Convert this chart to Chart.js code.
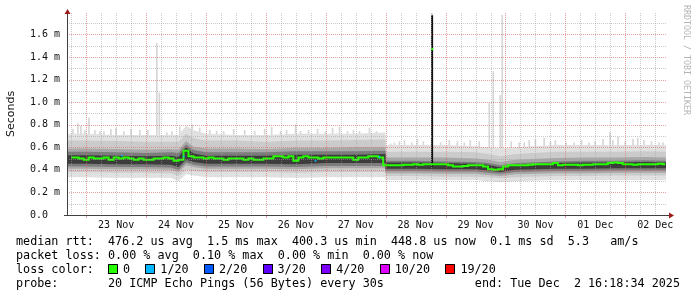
<!DOCTYPE html>
<html>
<head>
<meta charset="utf-8">
<script src="https://cdn.jsdelivr.net/npm/chart.js@4.4.1/dist/chart.umd.min.js"></script>
<style>
    html, body { margin: 0; padding: 0; background: #fff; }
    #wrap { position: relative; width: 697px; height: 297px; overflow: hidden; }
    #rrd { position: absolute; left: 0; top: 0; }
    .leg {
        position: absolute;
        left: 16px;
        font-family: 'DejaVu Sans Mono', monospace;
        font-size: 11.75px;
        line-height: 14px;
        white-space: pre;
        color: #000;
    }
    .box {
        display: inline-block;
        width: 8px;
        height: 8px;
        border: 1px solid #000;
        margin-right: 5px;
        vertical-align: -1px;
    }
    .lc { margin-right: 15.3px; }
</style>
</head>
<body>
<div id="wrap">
    <canvas id="rrd" width="697" height="297"></canvas>
    <div class="leg" style="top:234px">median rtt:  476.2 us avg  1.5 ms max  400.3 us min  448.8 us now  0.1 ms sd  5.3   am/s</div>
    <div class="leg" style="top:248px">packet loss: 0.00 % avg  0.10 % max  0.00 % min  0.00 % now</div>
    <div class="leg" id="loss_colours" style="top:262px">loss color:  </div>
    <div class="leg" style="top:276px">probe:       20 ICMP Echo Pings (56 Bytes) every 30s</div>
    <div class="leg" style="top:276px; left:auto; right:17px">end: Tue Dec  2 16:18:34 2025</div>
</div>
<script>
// x values are hours since 22 Nov 00:00, y values are milliseconds
const startHour = 16.31;
const endHour = 256.31;

const dayTicks = [36, 60, 84, 108, 132, 156, 180, 204, 228, 252];
const dayLabels = ['23 Nov', '24 Nov', '25 Nov', '26 Nov', '27 Nov', '28 Nov', '29 Nov', '30 Nov', '01 Dec', '02 Dec'];
const yTicks = [0, 0.2, 0.4, 0.6, 0.8, 1.0, 1.2, 1.4, 1.6];
const yLabels = ['0.0  ', '0.2 m', '0.4 m', '0.6 m', '0.8 m', '1.0 m', '1.2 m', '1.4 m', '1.6 m'];

const lossLabels = ['0', '1/20', '2/20', '3/20', '4/20', '10/20', '19/20'];
const lossColours = ['#26ff00', '#00b8ff', '#0059ff', '#5e00ff', '#7e00ff', '#dd00ff', '#ff0000'];

// median rtt, one reading every 2 hours from 22 Nov 18:00
const medianStart = 18;
const medianStep = 2;
const medianMs = [
    0.51, 0.51, 0.50, 0.49, 0.51, 0.50, 0.50, 0.51, 0.49, 0.51,
    0.50, 0.51, 0.50, 0.49, 0.50, 0.49, 0.49, 0.50, 0.50, 0.51,
    0.50, 0.48, 0.49, 0.57, 0.52, 0.51, 0.51, 0.50, 0.51, 0.50,
    0.50, 0.49, 0.50, 0.50, 0.50, 0.49, 0.50, 0.49, 0.49, 0.50,
    0.50, 0.52, 0.52, 0.51, 0.52, 0.48, 0.51, 0.52, 0.51, 0.51,
    0.50, 0.51, 0.51, 0.51, 0.51, 0.51, 0.51, 0.49, 0.51, 0.51,
    0.52, 0.52, 0.51, 0.44, 0.44, 0.44, 0.44, 0.445, 0.445, 0.45,
    0.445, 0.45, 0.45, 0.45, 0.45, 0.45, 0.44, 0.43, 0.43, 0.435,
    0.44, 0.44, 0.44, 0.43, 0.405, 0.40, 0.405, 0.43, 0.44, 0.44,
    0.44, 0.44, 0.445, 0.45, 0.45, 0.45, 0.45, 0.46, 0.44, 0.445,
    0.445, 0.445, 0.44, 0.445, 0.445, 0.45, 0.45, 0.45, 0.46, 0.465,
    0.46, 0.45, 0.45, 0.445, 0.45, 0.45, 0.45, 0.45, 0.455, 0.45
];

// smoke envelopes, outer to inner
const smokeHours = [16.3, 24, 36, 48, 58, 61, 64, 67, 72, 84, 96, 108, 120, 132, 143.9,
    144.1, 156, 168, 180, 185, 190, 196, 212, 224, 236, 248, 256.3];
const smokeTop1 = [0.72, 0.72, 0.71, 0.71, 0.71, 0.71, 0.79, 0.75, 0.72, 0.71, 0.71, 0.72, 0.72, 0.72, 0.73,
    0.62, 0.62, 0.62, 0.61, 0.60, 0.59, 0.60, 0.62, 0.62, 0.62, 0.62, 0.62];
const smokeBot1 = [0.335, 0.335, 0.33, 0.33, 0.33, 0.30, 0.36, 0.35, 0.335, 0.335, 0.335, 0.33, 0.335, 0.335, 0.335,
    0.31, 0.31, 0.31, 0.31, 0.30, 0.29, 0.30, 0.31, 0.31, 0.31, 0.31, 0.31];
const smokeTop2 = [0.66, 0.66, 0.655, 0.65, 0.65, 0.65, 0.72, 0.68, 0.66, 0.66, 0.65, 0.66, 0.66, 0.665, 0.67,
    0.56, 0.56, 0.56, 0.555, 0.54, 0.52, 0.54, 0.56, 0.56, 0.56, 0.565, 0.56];
const smokeBot2 = [0.38, 0.38, 0.375, 0.375, 0.37, 0.345, 0.40, 0.39, 0.38, 0.38, 0.38, 0.375, 0.38, 0.38, 0.38,
    0.345, 0.345, 0.34, 0.34, 0.335, 0.325, 0.335, 0.345, 0.345, 0.35, 0.35, 0.35];
const smokeTop3 = [0.59, 0.59, 0.585, 0.58, 0.585, 0.58, 0.655, 0.605, 0.59, 0.59, 0.585, 0.595, 0.595, 0.60, 0.60,
    0.51, 0.51, 0.51, 0.50, 0.49, 0.47, 0.49, 0.505, 0.51, 0.51, 0.515, 0.51];
const smokeBot3 = [0.41, 0.41, 0.405, 0.405, 0.40, 0.38, 0.44, 0.425, 0.41, 0.41, 0.41, 0.405, 0.415, 0.415, 0.415,
    0.37, 0.37, 0.365, 0.365, 0.355, 0.345, 0.36, 0.37, 0.37, 0.375, 0.375, 0.375];
const smokeTop4 = [0.56, 0.56, 0.555, 0.55, 0.555, 0.55, 0.625, 0.575, 0.555, 0.555, 0.555, 0.565, 0.565, 0.565, 0.57,
    0.48, 0.48, 0.475, 0.47, 0.46, 0.44, 0.46, 0.475, 0.48, 0.48, 0.485, 0.48];
const smokeBot4 = [0.43, 0.43, 0.425, 0.425, 0.42, 0.40, 0.465, 0.445, 0.43, 0.43, 0.43, 0.425, 0.435, 0.435, 0.435,
    0.39, 0.39, 0.385, 0.385, 0.375, 0.365, 0.38, 0.39, 0.39, 0.395, 0.395, 0.395];
const smokeTop5 = [0.53, 0.53, 0.525, 0.52, 0.525, 0.515, 0.60, 0.545, 0.525, 0.525, 0.525, 0.535, 0.535, 0.535, 0.54,
    0.465, 0.465, 0.46, 0.455, 0.445, 0.42, 0.445, 0.46, 0.465, 0.465, 0.47, 0.465];
const smokeBot5 = [0.455, 0.455, 0.45, 0.45, 0.445, 0.425, 0.49, 0.47, 0.455, 0.455, 0.455, 0.45, 0.46, 0.46, 0.46,
    0.41, 0.41, 0.405, 0.405, 0.395, 0.38, 0.40, 0.41, 0.41, 0.415, 0.415, 0.415];
const smokeGreys = ['#e0e0e0', '#cbcbcb', '#a8a8a8', '#7c7c7c', '#3c3c3c'];

// single slow pings sticking out of the smoke
const spikeHours = [18.7, 20.7, 21.9, 23.5, 25.1, 27.5, 29.5, 31.1, 33.9, 35.9, 39.1, 41.9, 45.5, 48.7,
    52.3, 53.3, 56.3, 58.3, 61.5, 66.5, 69.5, 73.5, 76.3, 79.1, 83.1, 87.5, 91.5, 95.5, 98.3, 101.9,
    104.3, 107.9, 109.9, 113.1, 116.7, 119.9, 122.7, 125.5, 128.7, 131.1, 133.5, 137.5, 140.3,
    146, 147.5, 149.5, 151.5, 154.5, 156.7, 159.1, 162.6, 166, 169.5, 172.7, 175.5, 177.9, 181.5,
    185.5, 187.1, 189.9, 190.7, 194.3, 197.5, 199.5, 201.5, 204, 207.5, 210, 212, 216.3, 219.5,
    222.5, 225.5, 227.9, 231.1, 233.9, 235, 237.1, 240, 243.1, 245, 247.5, 250.5, 253.5, 255];
const spikeTops = [0.76, 0.81, 0.79, 0.75, 0.86, 0.75, 0.74, 0.74, 0.76, 0.77, 0.74, 0.76, 0.75, 0.75,
    1.52, 1.08, 0.73, 0.74, 0.78, 0.80, 0.77, 0.75, 0.74, 0.74, 0.76, 0.75, 0.74, 0.76, 0.78, 0.74,
    0.75, 0.80, 0.74, 0.75, 0.76, 0.74, 0.77, 0.78, 0.74, 0.75, 0.74, 0.77, 0.74,
    0.63, 0.64, 0.65, 0.66, 0.64, 0.67, 0.65, 1.79, 0.64, 0.66, 0.65, 0.64, 0.66, 0.65,
    0.99, 1.27, 1.06, 1.77, 0.65, 0.64, 0.64, 0.66, 0.67, 0.68, 0.65, 0.66, 0.64, 0.64,
    0.66, 0.64, 0.65, 0.67, 0.73, 0.66, 0.69, 0.65, 0.67, 0.68, 0.66, 0.65, 0.64, 0.64];

// the dense spike on 28 Nov
const blackSpikeHour = 162.6;
const blackSpikeLow = 0.43;
const blackSpikeHigh = 1.77;
const blackSpikeMedian = 1.47;

// short stretches with 1/20 loss
const loss1Hours = [38.3, 63.1, 115.9, 141.5];
const loss1Ms = [0.525, 0.52, 0.48, 0.515];

function points(xs, ys) {
    return ys.map((v, i) => ({x: xs[i], y: v}));
}

let datasets = [];

datasets.push({
    type: 'bar',
    data: spikeHours.map((h, i) => ({x: h, y: [0.5, spikeTops[i]]})),
    backgroundColor: '#d6d6d6',
    barThickness: 1,
    grouped: false,
    order: 20
});

const smokeLevels = [
    [smokeTop1, smokeBot1],
    [smokeTop2, smokeBot2],
    [smokeTop3, smokeBot3],
    [smokeTop4, smokeBot4],
    [smokeTop5, smokeBot5]
];
smokeLevels.forEach((level, i) => {
    datasets.push({
        data: points(smokeHours, level[1]),
        borderWidth: 0,
        borderColor: 'transparent',
        pointRadius: 0,
        fill: false,
        order: 10 - i
    });
    datasets.push({
        data: points(smokeHours, level[0]),
        borderWidth: 0,
        borderColor: 'transparent',
        pointRadius: 0,
        backgroundColor: smokeGreys[i],
        fill: '-1',
        order: 10 - i
    });
});

datasets.push({
    data: [{x: blackSpikeHour, y: blackSpikeLow}, {x: blackSpikeHour, y: blackSpikeHigh}],
    borderColor: '#111111',
    borderWidth: 2,
    pointRadius: 0,
    fill: false,
    order: 2
});

datasets.push({
    data: medianMs.map((v, i) => ({x: medianStart + i * medianStep, y: v})),
    borderColor: lossColours[0],
    borderWidth: 2,
    pointRadius: 0,
    fill: false,
    stepped: 'middle',
    order: 1
});

datasets.push({
    data: [{x: blackSpikeHour, y: blackSpikeMedian}],
    showLine: false,
    pointStyle: 'rect',
    pointRadius: 1.5,
    borderWidth: 0,
    backgroundColor: lossColours[0],
    order: 0
});

datasets.push({
    data: points(loss1Hours, loss1Ms),
    showLine: false,
    pointStyle: 'rect',
    pointRadius: 1.2,
    borderWidth: 0,
    backgroundColor: lossColours[1],
    order: 0
});

function px(v) {
    return Math.round(v) + 0.5;
}

const rrdFrame = {
    id: 'rrdFrame',
    afterDatasetsDraw(chart) {
        const {ctx, chartArea: a, scales: {x, y}} = chart;
        ctx.save();
        ctx.lineWidth = 1;
        ctx.setLineDash([1, 1]);
        // minor grid first, major (midnights / even tenths) on top, both see-through like rrdtool
        [false, true].forEach((major) => {
            ctx.strokeStyle = major ? 'rgba(224, 96, 96, 0.6)' : 'rgba(160, 160, 160, 0.55)';
            ctx.beginPath();
            for (let h = 18; h < endHour; h += 6) {
                if ((h % 24 === 0) !== major) continue;
                const xp = px(x.getPixelForValue(h));
                ctx.moveTo(xp, a.top);
                ctx.lineTo(xp, a.bottom);
            }
            for (let t = 1; t <= 17; t++) {
                if ((t % 2 === 0) !== major) continue;
                const yp = px(y.getPixelForValue(t / 10));
                ctx.moveTo(a.left, yp);
                ctx.lineTo(a.right, yp);
            }
            ctx.stroke();
        });
        ctx.restore();
    },
    afterDraw(chart) {
        const {ctx, chartArea: a, scales: {x}} = chart;
        ctx.save();
        ctx.setLineDash([]);
        ctx.lineWidth = 1;

        ctx.strokeStyle = '#e49c9c';
        ctx.beginPath();
        for (let h = 24; h < endHour; h += 24) {
            const xp = px(x.getPixelForValue(h));
            ctx.moveTo(xp, a.bottom + 1);
            ctx.lineTo(xp, a.bottom + 3);
        }
        ctx.stroke();

        ctx.strokeStyle = '#404040';
        ctx.beginPath();
        ctx.moveTo(px(a.left), a.bottom + 1);
        ctx.lineTo(px(a.left), a.top - 1);
        ctx.moveTo(a.left - 3, px(a.bottom));
        ctx.lineTo(a.right + 4, px(a.bottom));
        ctx.stroke();

        ctx.fillStyle = '#9b1c1c';
        const lx = px(a.left);
        ctx.beginPath();
        ctx.moveTo(lx, a.top - 4);
        ctx.lineTo(lx - 3, a.top + 1);
        ctx.lineTo(lx + 3, a.top + 1);
        ctx.closePath();
        ctx.fill();
        const by = px(a.bottom);
        ctx.beginPath();
        ctx.moveTo(a.right + 8, by);
        ctx.lineTo(a.right + 3, by - 3);
        ctx.lineTo(a.right + 3, by + 3);
        ctx.closePath();
        ctx.fill();

        ctx.translate(686, 5);
        ctx.rotate(Math.PI / 2);
        ctx.font = '8.3px "DejaVu Sans Mono"';
        ctx.fillStyle = '#b4b4b4';
        ctx.textBaseline = 'middle';
        ctx.textAlign = 'left';
        ctx.fillText('RRDTOOL / TOBI OETIKER', 0, 0);
        ctx.restore();
    }
};

const tickFont = {family: 'DejaVu Sans Mono', size: 10};

new Chart(document.getElementById('rrd'), {
    type: 'line',
    data: {datasets: datasets},
    options: {
        responsive: false,
        devicePixelRatio: 1,
        animation: false,
        events: [],
        layout: {padding: {left: 0, top: 12, right: 31, bottom: 62}},
        plugins: {
            legend: {display: false},
            tooltip: {enabled: false}
        },
        scales: {
            x: {
                type: 'linear',
                min: startHour,
                max: endHour,
                offset: false,
                grid: {display: false, drawTicks: false},
                border: {display: false},
                afterBuildTicks: (scale) => {
                    scale.ticks = dayTicks.map((v) => ({value: v}));
                },
                afterFit: (scale) => {
                    scale.height = 20;
                },
                ticks: {
                    autoSkip: false,
                    maxRotation: 0,
                    padding: 4,
                    color: '#111111',
                    font: tickFont,
                    callback: (value, index) => dayLabels[index]
                }
            },
            y: {
                min: 0,
                max: 1.79,
                grid: {display: false, drawTicks: false},
                border: {display: false},
                afterBuildTicks: (scale) => {
                    scale.ticks = yTicks.map((v) => ({value: v}));
                },
                afterFit: (scale) => {
                    scale.width = 67;
                },
                ticks: {
                    padding: 7,
                    color: '#111111',
                    font: tickFont,
                    callback: (value, index) => yLabels[index]
                },
                title: {
                    display: true,
                    text: 'Seconds',
                    color: '#111111',
                    font: {family: 'DejaVu Sans', size: 11},
                    padding: {top: 5, bottom: 0}
                }
            }
        }
    },
    plugins: [rrdFrame]
});

let lossHtml = '';
lossLabels.forEach((label, i) => {
    lossHtml += '<span class="box" style="background:' + lossColours[i] + '"></span>'
        + '<span class="lc">' + label + '</span>';
});
document.getElementById('loss_colours').innerHTML += lossHtml;
</script>
</body>
</html>
